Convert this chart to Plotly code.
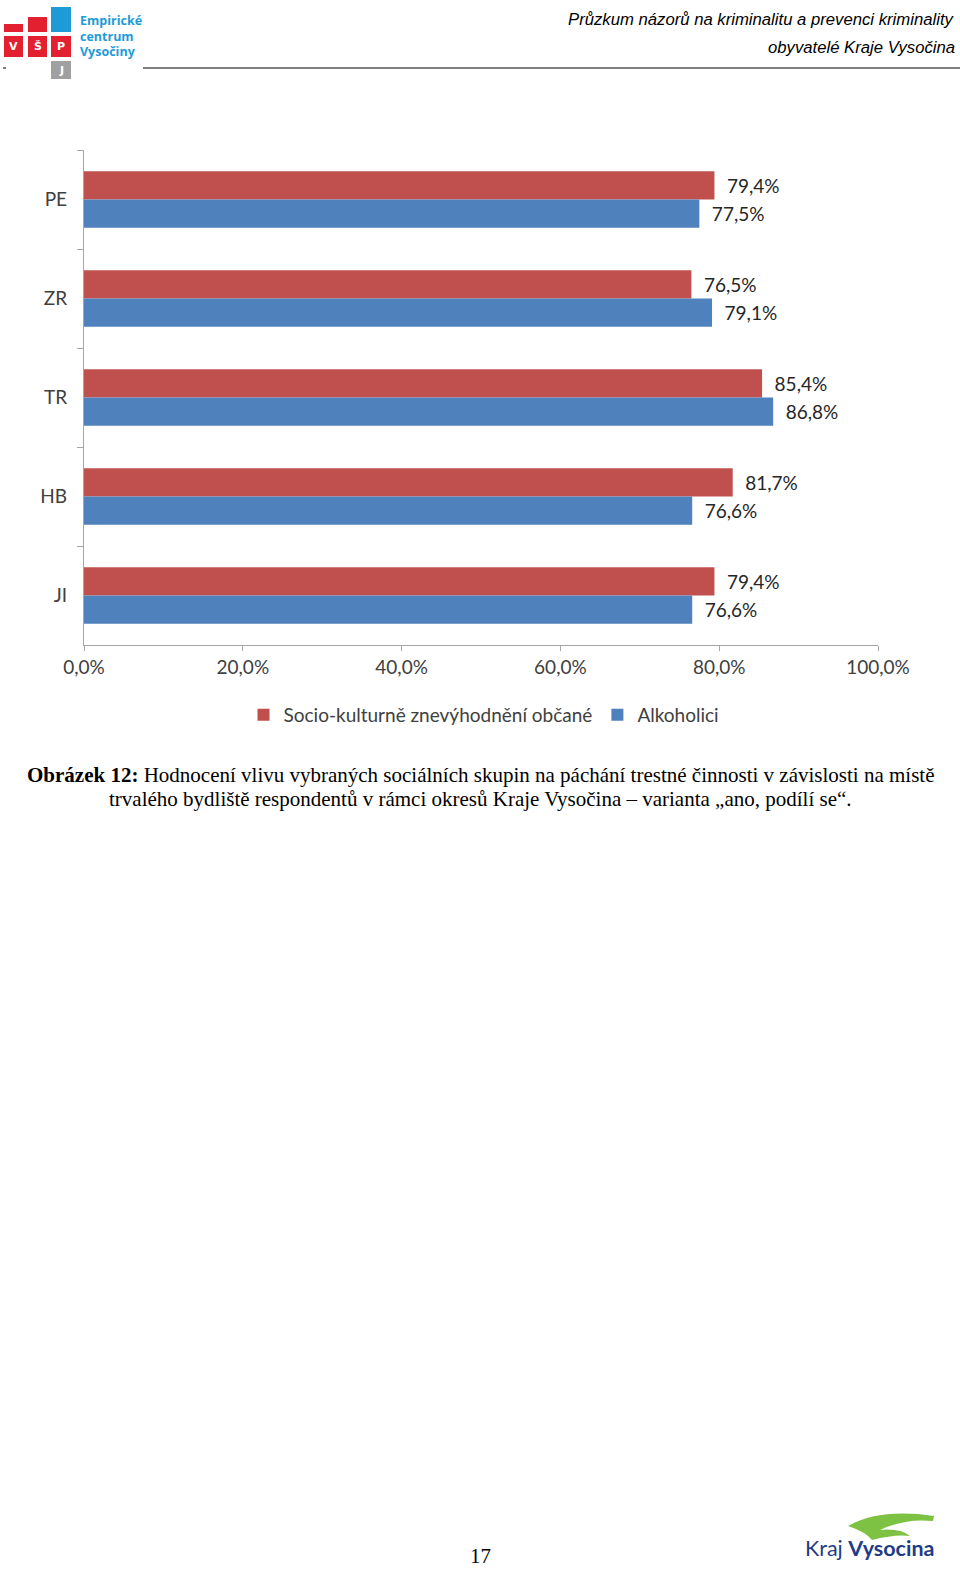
import plotly.graph_objects as go

categories = ["PE", "ZR", "TR", "HB", "JI"]
socio = [79.4, 76.5, 85.4, 81.7, 79.4]
alkoholici = [77.5, 79.1, 86.8, 76.6, 76.6]
series_names = ["Socio-kulturně znevýhodnění občané", "Alkoholici"]
x_ticks = [0, 20, 40, 60, 80, 100]
x_tick_labels = ["0,0%", "20,0%", "40,0%", "60,0%", "80,0%", "100,0%"]

W, H = 960, 1569
RED = "#C0504D"
BLUE = "#4F81BD"
FONT = "Lato, 'Open Sans', sans-serif"

def py(y):
    return 1 - y / H

def px(x):
    return x / W

fig = go.Figure()
for name, vals, col in [(series_names[0], socio, RED), (series_names[1], alkoholici, BLUE)]:
    fig.add_trace(go.Bar(
        y=categories, x=vals, name=name, orientation="h",
        marker=dict(color=col, line=dict(width=0)),
        texttemplate="\u2002%{x:.1f}%", textposition="outside",
        textfont=dict(family=FONT, size=19, color="#262626"),
        cliponaxis=False,
    ))

fig.update_layout(
    width=W, height=H,
    margin=dict(l=0, r=0, t=0, b=0, autoexpand=False),
    paper_bgcolor="white", plot_bgcolor="white",
    separators=", ",
    barmode="group", bargap=0.43, bargroupgap=0,
    showlegend=True,
    legend=dict(orientation="h", x=px(484), xanchor="center", y=py(715), yanchor="middle",
                font=dict(family=FONT, size=19, color="#404040"), traceorder="normal",
                itemwidth=30),
    xaxis=dict(domain=[px(84), px(878)], range=[0, 100], tickvals=x_ticks, ticktext=x_tick_labels,
               showgrid=False, zeroline=False, automargin=False,
               showline=True, linecolor="#A6A6A6", linewidth=1.3,
               ticks="outside", ticklen=5, tickcolor="#A6A6A6",
               tickfont=dict(family=FONT, size=19, color="#404040"), anchor="y"),
    yaxis=dict(domain=[py(645), py(150)], autorange="reversed", type="category",
               showgrid=False, zeroline=False, automargin=False,
               showline=True, linecolor="#A6A6A6", linewidth=1.3,
               ticks="outside", ticklen=6, tickcolor="#A6A6A6", tickson="boundaries",
               ticklabelstandoff=12,
               tickfont=dict(family=FONT, size=19, color="#404040"), anchor="x"),
)

shapes = []
annotations = []

# Header line
shapes.append(dict(type="line", xref="paper", yref="paper", x0=px(143), x1=1, y0=py(68), y1=py(68),
                   line=dict(color="black", width=1.2)))
shapes.append(dict(type="line", xref="paper", yref="paper", x0=px(3), x1=px(6), y0=py(68), y1=py(68),
                   line=dict(color="black", width=1)))

# Logo boxes
def rect(x0, y0, x1, y1, col):
    shapes.append(dict(type="rect", xref="paper", yref="paper", x0=px(x0), x1=px(x1),
                       y0=py(y1), y1=py(y0), fillcolor=col, line=dict(width=0), layer="above"))

LRED = "#E3202F"
rect(4, 24, 23, 32, LRED)
rect(28, 17, 47, 32, LRED)
rect(51, 7, 71, 32, "#1E9BD7")
for x0, x1, letter in [(4, 23, "V"), (28, 47, "Š"), (51, 71, "P")]:
    rect(x0, 36, x1, 57, LRED)
    annotations.append(dict(text=f"<b>{letter}</b>", x=px((x0 + x1) / 2), y=py(46.5),
                            xref="paper", yref="paper", showarrow=False,
                            font=dict(family="DejaVu Sans", size=11, color="white"),
                            xanchor="center", yanchor="middle"))
rect(51, 61, 71, 79, "#A0A0A0")
annotations.append(dict(text="<b>J</b>", x=px(61), y=py(70), xref="paper", yref="paper", showarrow=False,
                        font=dict(family="DejaVu Sans", size=11, color="white"),
                        xanchor="center", yanchor="middle"))
for i, t in enumerate(["Empirické", "centrum", "Vysočiny"]):
    annotations.append(dict(text=f"<b>{t}</b>", x=px(78), y=py(21 + 15 * i), xref="paper", yref="paper",
                            showarrow=False, xanchor="left", yanchor="middle",
                            font=dict(family="Open Sans", size=12.5, color="#1E9BD7")))

# Header text
annotations.append(dict(text="<i>Průzkum názorů na kriminalitu a prevenci kriminality</i>", x=px(957), y=py(20),
                        xref="paper", yref="paper", showarrow=False, xanchor="right", yanchor="middle",
                        font=dict(family="Liberation Sans", size=16.7, color="black")))
annotations.append(dict(text="<i>obyvatelé Kraje Vysočina</i>", x=px(957), y=py(48),
                        xref="paper", yref="paper", showarrow=False, xanchor="right", yanchor="middle",
                        font=dict(family="Liberation Sans", size=16.7, color="black")))

# Caption
annotations.append(dict(text="<b>Obrázek 12:</b> Hodnocení vlivu vybraných sociálních skupin na páchání trestné činnosti v závislosti na místě",
                        x=px(480), y=py(775), xref="paper", yref="paper", showarrow=False,
                        xanchor="center", yanchor="middle",
                        font=dict(family="Liberation Serif", size=21, color="black")))
annotations.append(dict(text="trvalého bydliště respondentů v rámci okresů Kraje Vysočina – varianta „ano, podílí se“.",
                        x=px(480), y=py(799), xref="paper", yref="paper", showarrow=False,
                        xanchor="center", yanchor="middle",
                        font=dict(family="Liberation Serif", size=21, color="black")))

# Page number
annotations.append(dict(text="17", x=px(480), y=py(1556), xref="paper", yref="paper", showarrow=False,
                        xanchor="center", yanchor="middle",
                        font=dict(family="Liberation Serif", size=21, color="black")))

# Footer logo
shapes.append(dict(type="path", xref="paper", yref="paper",
                   path=f"M {px(848)},{py(1526)} Q {px(880)},{py(1508)} {px(934)},{py(1516)} "
                        f"L {px(933)},{py(1521)} Q {px(905)},{py(1518)} {px(880)},{py(1530)} "
                        f"Q {px(900)},{py(1528)} {px(910)},{py(1536)} Q {px(895)},{py(1534)} {px(872)},{py(1540)} "
                        f"Q {px(866)},{py(1532)} {px(848)},{py(1526)} Z",
                   fillcolor="#7DC242", line=dict(width=0)))
annotations.append(dict(text="Kraj <b>Vysocina</b>", x=px(803), y=py(1548), xref="paper", yref="paper",
                        showarrow=False, xanchor="left", yanchor="middle",
                        font=dict(family="Lato", size=21.5, color="#1F3C88")))

fig.update_layout(shapes=shapes, annotations=annotations)
fig.write_html("out.html")
